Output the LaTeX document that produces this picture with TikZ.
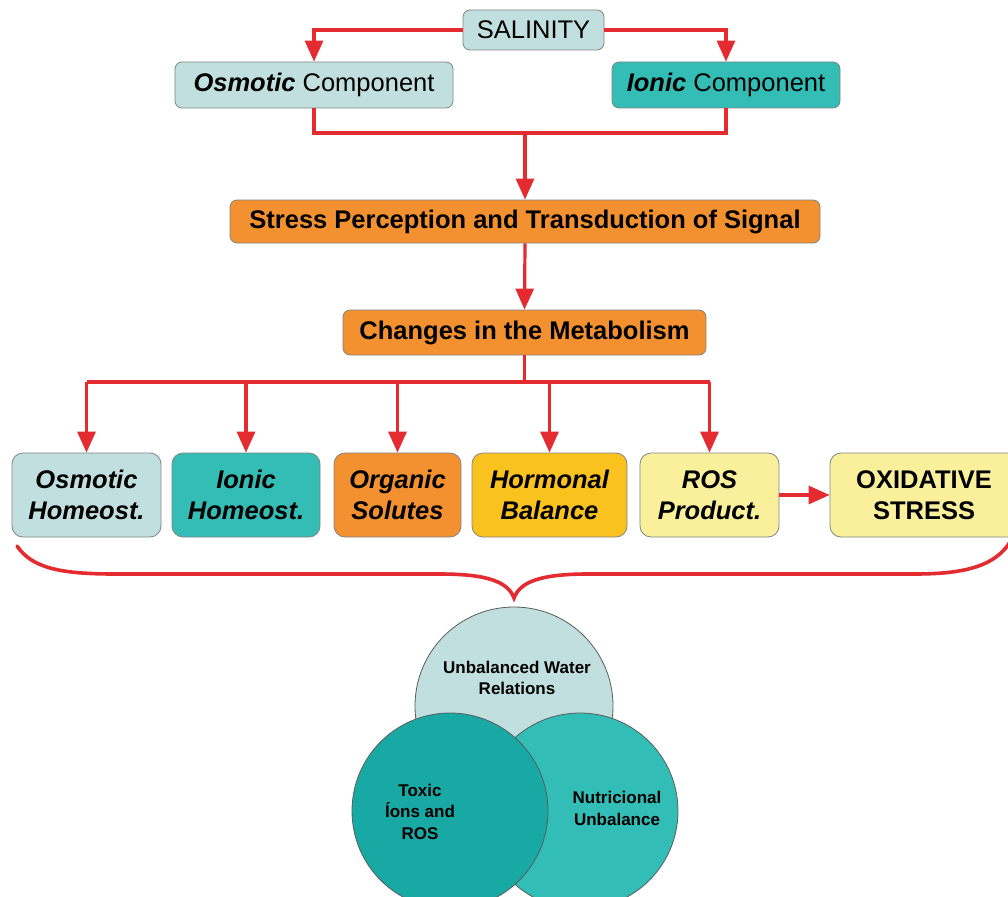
\documentclass[tikz,border=0pt]{standalone}
\usepackage{fontspec}
\setmainfont{Liberation Sans}
\usetikzlibrary{arrows.meta}
\definecolor{lblue}{HTML}{C2DFDF}
\definecolor{teal2}{HTML}{33BDB5}
\definecolor{orng}{HTML}{F39130}
\definecolor{hyel}{HTML}{F9C21E}
\definecolor{lyel}{HTML}{FAF09C}
\definecolor{cleft}{HTML}{19A9A4}
\definecolor{cright}{HTML}{32BEB6}
\definecolor{redl}{HTML}{E42B30}
\definecolor{bord}{HTML}{7F8585}
\begin{document}
\begin{tikzpicture}[x=1pt,y=-1pt,
  box/.style={draw=bord, line width=0.8pt, rounded corners=7pt, inner sep=0pt, align=center,
    font=\fontsize{25.5}{31}\selectfont},
  rowbox/.style={box, rounded corners=11pt, minimum height=84pt, font=\fontsize{25.5}{31}\selectfont\bfseries\itshape},
  rl/.style={draw=redl, line width=3.2pt},
  arr/.style={rl, -{Triangle[length=21pt,width=18pt]}},
  brace/.style={draw=redl, line width=3.6pt, line cap=round},
  venn/.style={draw=bord!70!black, line width=0.8pt},
  venntext/.style={align=center, inner sep=0pt, font=\fontsize{17}{21.5}\selectfont\bfseries}
]
\clip (0,0) rectangle (1008,896);
\fill[white] (0,0) rectangle (1008,896);

% top
\node[box, fill=lblue, minimum width=141pt, minimum height=40pt] (sal) at (533.5,30) {SALINITY};
\node[box, fill=lblue, minimum width=278pt, minimum height=46pt] (osm) at (314,85) {\textbf{\textit{Osmotic}} Component};
\node[box, fill=teal2, minimum width=228pt, minimum height=46pt] (ion) at (726,85) {\textbf{\textit{Ionic}} Component};
\node[box, fill=orng, font=\fontsize{25.5}{31}\selectfont\bfseries, minimum width=590pt, minimum height=43pt] (str) at (525,221.5) {Stress Perception and Transduction of Signal};
\node[box, fill=orng, font=\fontsize{25.5}{31}\selectfont\bfseries, minimum width=363pt, minimum height=45pt] (chg) at (524.5,332.5) {Changes in the Metabolism};

% row
\node[rowbox, fill=lblue, minimum width=149pt] (oh) at (86.5,495) {Osmotic\\Homeost.};
\node[rowbox, fill=teal2, minimum width=148pt] (ih) at (246,495) {Ionic\\Homeost.};
\node[rowbox, fill=orng, minimum width=127pt] (os) at (397.5,495) {Organic\\Solutes};
\node[rowbox, fill=hyel, minimum width=155pt] (hb) at (549.5,495) {Hormonal\\Balance};
\node[rowbox, fill=lyel, minimum width=139pt] (ros) at (709.5,495) {ROS\\Product.};
\node[rowbox, fill=lyel, minimum width=190pt] (ox) at (925,495) {};
\node[align=center, inner sep=0pt, font=\fontsize{25.5}{31}\selectfont\bfseries] (oxt) at (924,495) {OXIDATIVE\\STRESS};

% connectors
\coordinate (y133) at (0,133);
\coordinate (y382) at (0,382);
\draw[arr] (sal.west) -| (osm.north);
\draw[arr] (sal.east) -| (ion.north);
\draw[rl] (osm.south) |- (ion.south |- y133) -- (ion.south);
\draw[arr] (str.north |- y133) -- (str.north);
\draw[arr] (str.south) -- (chg.north);
\draw[rl] (chg.south) -- (chg.south |- y382);
\draw[rl] (oh.north |- y382) -- (ros.north |- y382);
\foreach \n in {oh,ih,os,hb,ros}{
  \draw[arr] (\n.north |- y382) -- (\n.north);
}
\draw[arr] (ros.east) -- (ox.west);

% brace
\draw[brace] (17,546) .. controls (32,568) and (60,574) .. (115,574) -- (440,574)
  .. controls (488,574) and (508,582) .. (514,598)
  .. controls (520,582) and (540,574) .. (588,574) -- (915,574)
  .. controls (965,574) and (995,566) .. (1010,542);

% venn
\draw[venn, fill=lblue] (514,706) circle (99);
\draw[venn, fill=cright] (580,811) circle (98);
\draw[venn, fill=cleft] (450,811) circle (98);
\node[venntext] (t1) at (517,678) {Unbalanced Water\\Relations};
\node[venntext] (t2) at (420,811.5) {Toxic\\Íons and\\ROS};
\node[venntext] (t3) at (617,808.5) {Nutricional\\Unbalance};
\end{tikzpicture}
\end{document}
